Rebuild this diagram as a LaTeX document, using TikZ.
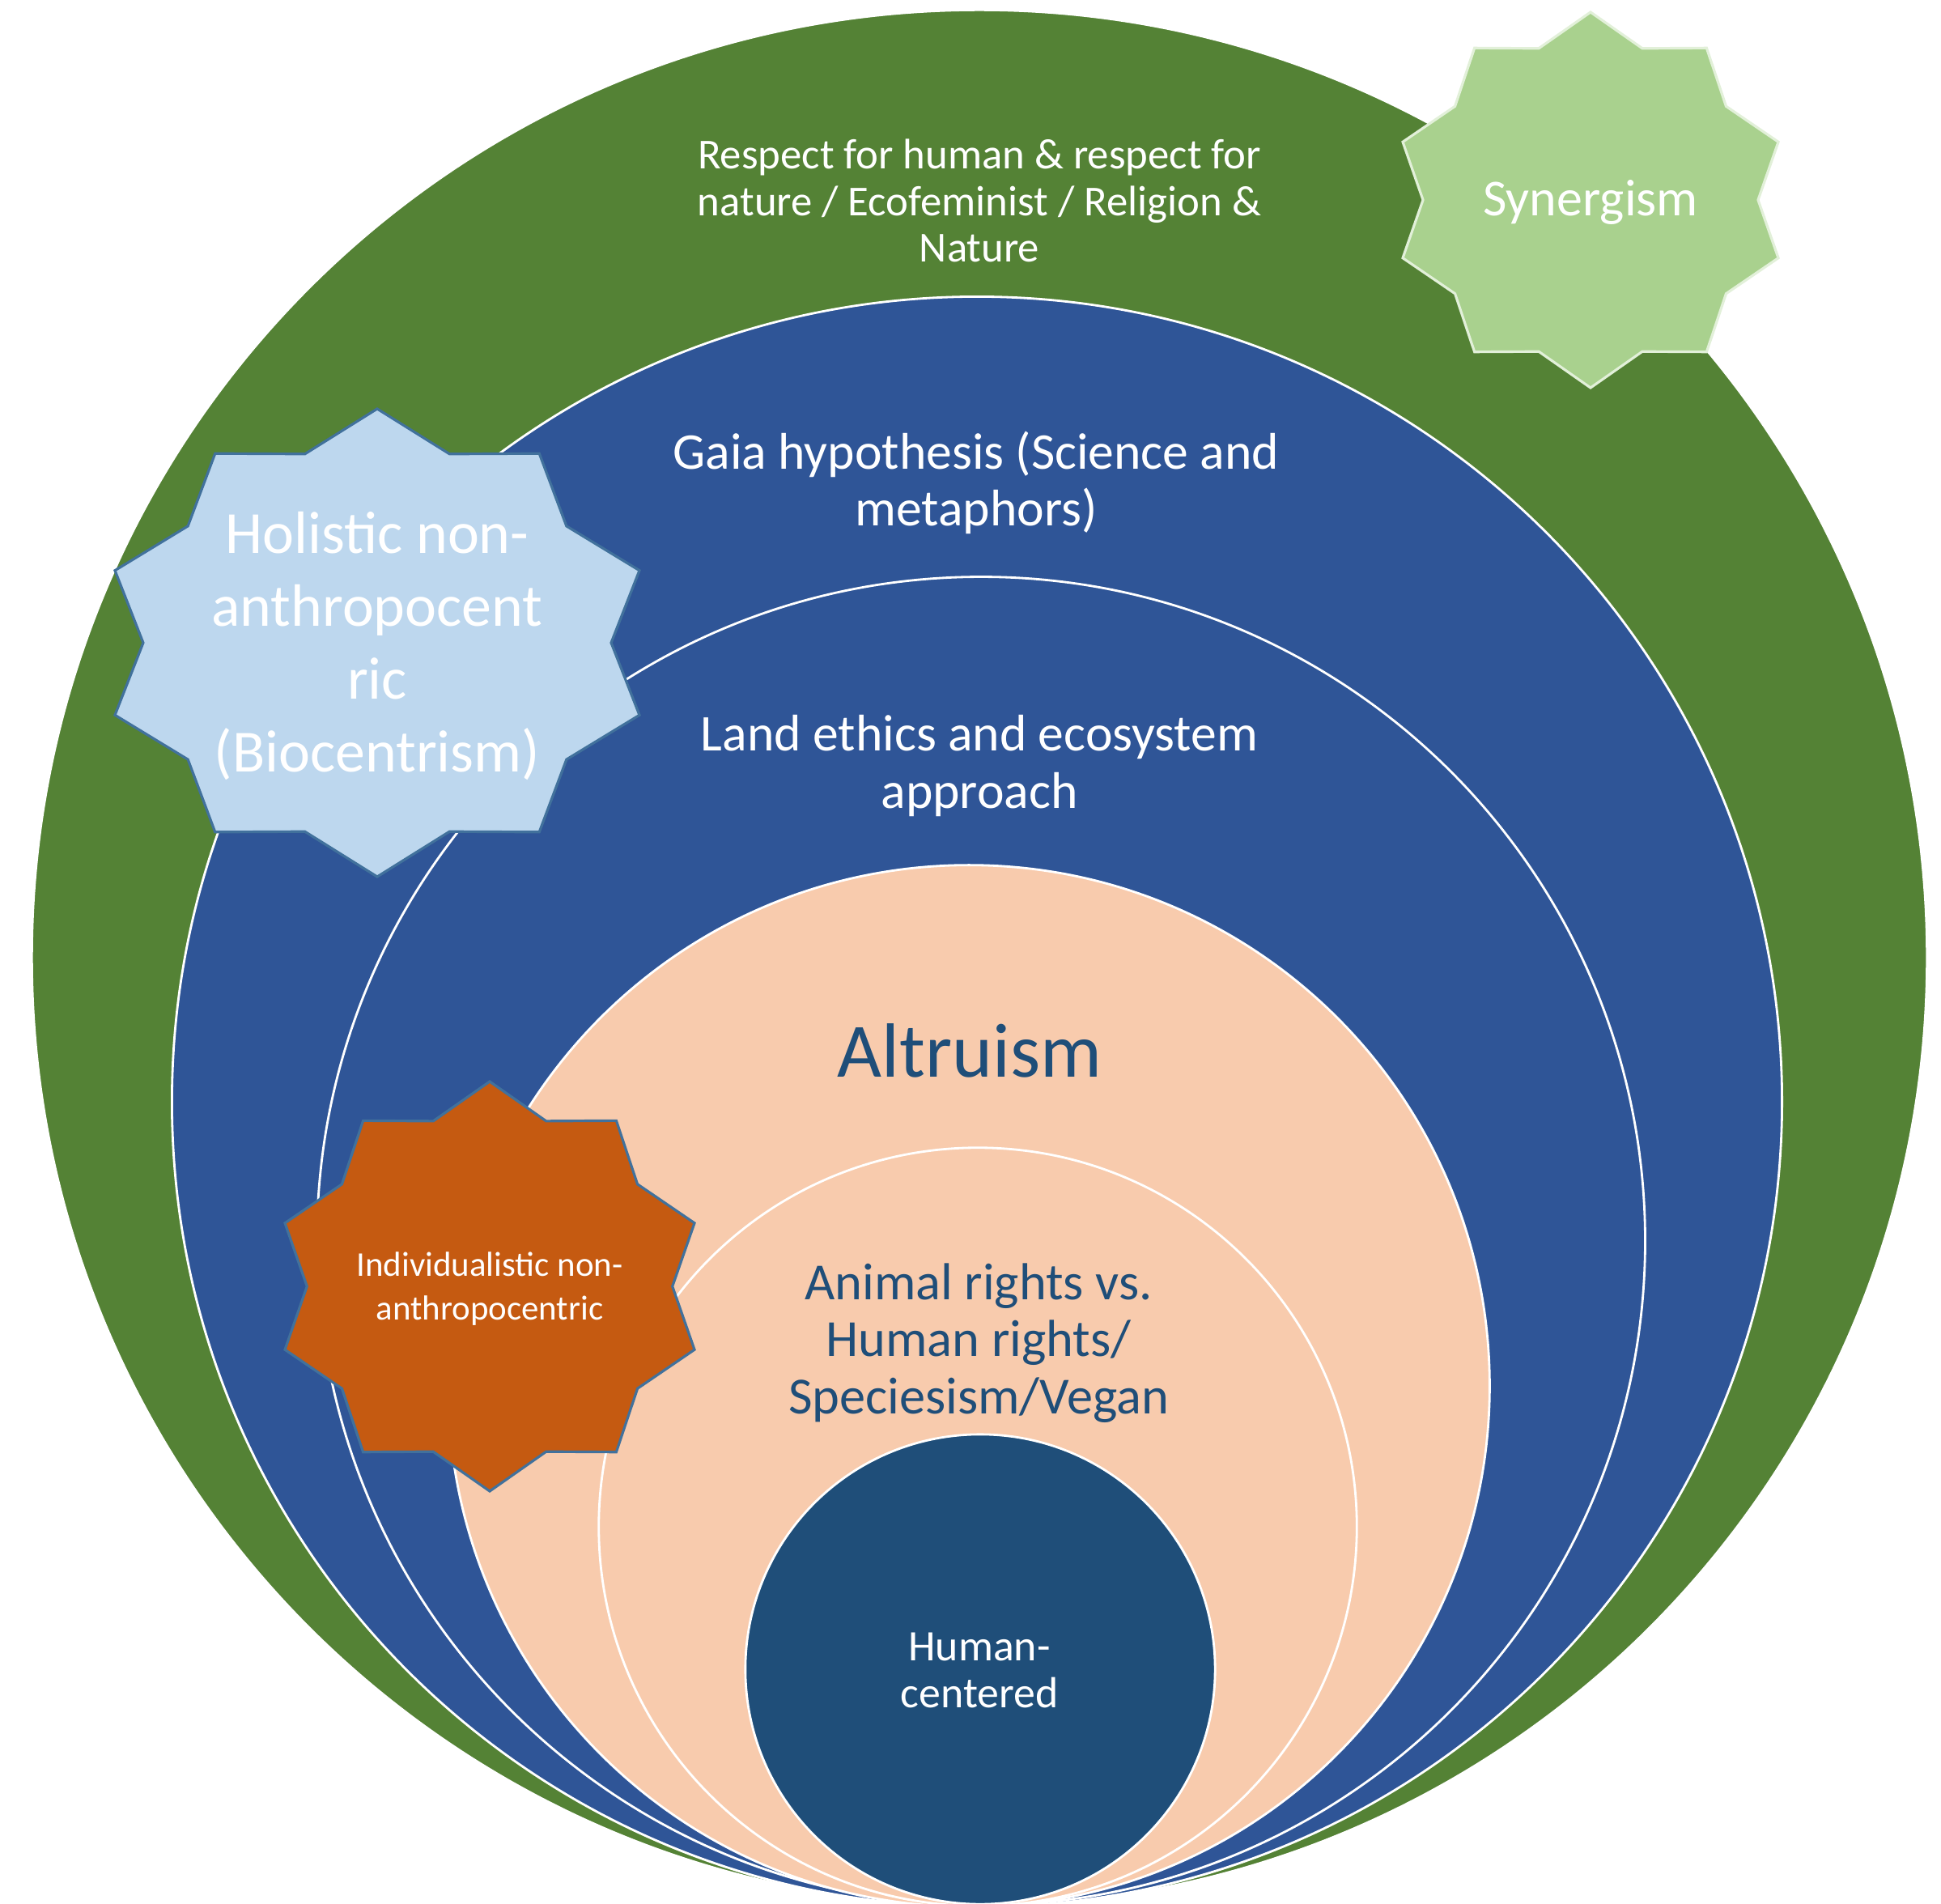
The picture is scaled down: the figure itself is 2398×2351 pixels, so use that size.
\documentclass[tikz,border=0pt]{standalone}
\usepackage{fontspec}
\setmainfont{Carlito}
\definecolor{cGreen}{HTML}{548235}
\definecolor{cBlue}{HTML}{2F5597}
\definecolor{cPeach}{HTML}{F8CBAD}
\definecolor{cNavy}{HTML}{1F4E79}
\definecolor{cSyn}{HTML}{A9D18E}
\definecolor{cHol}{HTML}{BDD7EE}
\definecolor{cInd}{HTML}{C55A11}
\definecolor{cStarLine}{HTML}{41719C}
\definecolor{cSynLine}{HTML}{E2F0D9}
\newcommand\tenstar[5]{%
  \draw[#5] plot[variable=\k,samples at={0,...,19}]
    ({#1+(1-0.1515*mod(\k,2))*#3*cos(90+18*\k)/0.951057},
     {#2-(1-0.1515*mod(\k,2))*#4*sin(90+18*\k)}) -- cycle;}
\begin{document}
\begin{tikzpicture}[x=0.01cm,y=-0.01cm,
  ring/.style={draw=white,line width=0.8pt},
  lbl/.style={align=center,inner sep=0pt,text=white},
  starline/.style={line width=0.9pt,line join=miter}]
\useasboundingbox (0,0) rectangle (2398,2351);
\fill[white] (0,0) rectangle (2398,2351);
% rings
\path[ring,fill=cGreen] (1210,1183) circle[radius=11.70cm];
\path[ring,fill=cBlue]  (1207,1361) circle[radius=9.94cm];
\path[ring,fill=cBlue]  (1212,1533) circle[radius=8.20cm];
\path[ring,fill=cPeach] (1197,1712) circle[radius=6.43cm];
\path[ring,fill=cPeach] (1208,1886) circle[radius=4.68cm];
\path[ring,fill=cNavy]  (1211,2062) circle[radius=2.90cm];
% ring labels
\node[lbl,font=\fontsize{15pt}{16.4pt}\selectfont] (respect) at (1210,248)
  {Respect for human \& respect for\\nature / Ecofeminist / Religion \&\\Nature};
\node[lbl,font=\fontsize{18.1pt}{19.9pt}\selectfont] (gaia) at (1206,596)
  {Gaia hypothesis (Science and\\metaphors)};
\node[lbl,font=\fontsize{18.1pt}{20.1pt}\selectfont] (land) at (1210,946)
  {Land ethics and ecosystem\\approach};
\node[lbl,text=cNavy,font=\fontsize{27pt}{32pt}\selectfont] (altruism) at (1198,1298)
  {Altruism};
\node[lbl,text=cNavy,font=\fontsize{18.3pt}{20.1pt}\selectfont] (animal) at (1209,1659)
  {Animal rights vs.\\Human rights/\\Speciesism/Vegan};
\node[lbl,font=\fontsize{15.3pt}{16.5pt}\selectfont] (human) at (1210,2063)
  {Human-\\centered};
% stars
\tenstar{1965}{247}{232}{232}{starline,fill=cSyn,draw=cSynLine}
\tenstar{466}{794}{324}{289}{starline,fill=cHol,draw=cStarLine}
\tenstar{605}{1589}{253}{253}{starline,fill=cInd,draw=cStarLine}
\node[lbl,font=\fontsize{18.2pt}{22pt}\selectfont] (syn) at (1965,250) {Synergism};
\node[lbl,font=\fontsize{21pt}{25.6pt}\selectfont] (holistic) at (466,798)
  {Holistic non-\\anthropocent\\ric\\(Biocentrism)};
\node[lbl,font=\fontsize{12.2pt}{15.1pt}\selectfont] (indiv) at (605,1592)
  {Individualistic non-\\anthropocentric};
\end{tikzpicture}
\end{document}
